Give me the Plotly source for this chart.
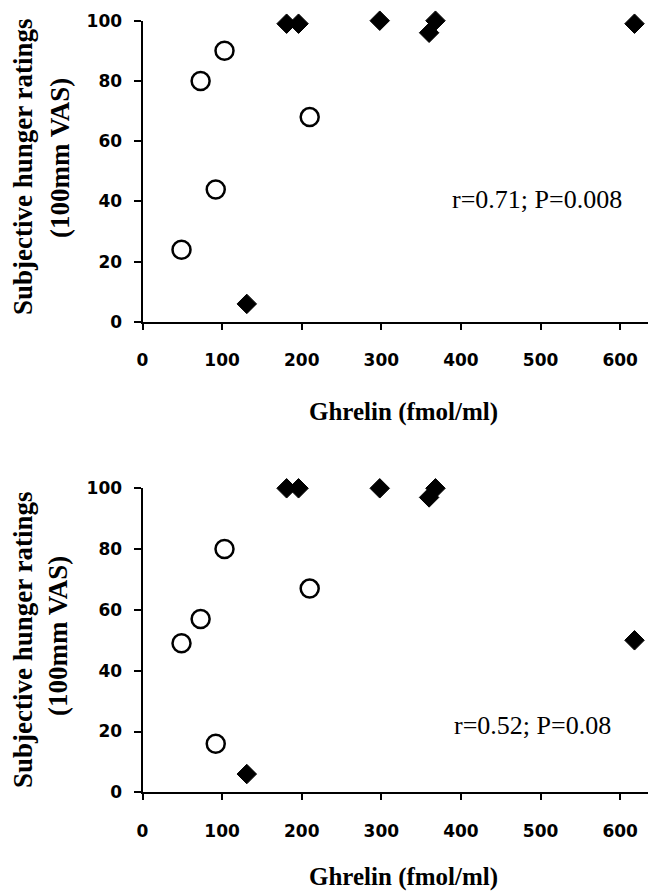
import plotly.graph_objects as go

# ---- data ----
# Top panel
top_open_x = [49, 73, 103, 92, 210]
top_open_y = [24, 80, 90, 44, 68]
top_fill_x = [131, 181, 196, 298, 368, 360, 618]
top_fill_y = [6, 99, 99, 100, 100, 96, 99]
top_label = "r=0.71; P=0.008"

# Bottom panel
bot_open_x = [49, 73, 103, 92, 210]
bot_open_y = [49, 57, 80, 16, 67]
bot_fill_x = [131, 181, 196, 298, 368, 360, 618]
bot_fill_y = [6, 100, 100, 100, 100, 97, 50]
bot_label = "r=0.52; P=0.08"

x_ticks = [0, 100, 200, 300, 400, 500, 600]
y_ticks = [0, 20, 40, 60, 80, 100]
x_title = "Ghrelin (fmol/ml)"
y_title_1 = "Subjective hunger ratings"
y_title_2 = "(100mm VAS)"

OFF = 8            # page body margin
W, H = 648, 885    # figure size (page is 656 x 893)

def px(p):         # page x pixel -> paper fraction
    return (p - OFF) / W

def py(p):         # page y pixel -> paper fraction
    return 1 - (p - OFF) / H

x_dom = [px(142.5), 1.0]
top_dom = [py(322), py(20.7)]
bot_dom = [py(792.3), py(488.3)]

fig = go.Figure()

open_marker = dict(symbol="circle-open", size=18, color="black", line=dict(width=2.5, color="black"))
fill_marker = dict(symbol="diamond", size=15, color="black", line=dict(width=1, color="black"))

fig.add_trace(go.Scatter(x=top_open_x, y=top_open_y, mode="markers", marker=open_marker,
                         xaxis="x", yaxis="y", cliponaxis=False, showlegend=False))
fig.add_trace(go.Scatter(x=top_fill_x, y=top_fill_y, mode="markers", marker=fill_marker,
                         xaxis="x", yaxis="y", cliponaxis=False, showlegend=False))
fig.add_trace(go.Scatter(x=bot_open_x, y=bot_open_y, mode="markers", marker=open_marker,
                         xaxis="x2", yaxis="y2", cliponaxis=False, showlegend=False))
fig.add_trace(go.Scatter(x=bot_fill_x, y=bot_fill_y, mode="markers", marker=fill_marker,
                         xaxis="x2", yaxis="y2", cliponaxis=False, showlegend=False))

tick_font = dict(family="DejaVu Sans", size=17, color="black", weight="bold")

def xaxis_cfg(anchor):
    return dict(domain=x_dom, anchor=anchor, range=[0, 645], tickvals=x_ticks,
                ticktext=[str(v) for v in x_ticks], showgrid=False, zeroline=False,
                showline=True, linecolor="black", linewidth=2, ticks="outside",
                ticklen=6, tickwidth=1.5, tickcolor="black", tickfont=tick_font,
                ticklabelstandoff=16, automargin=False)

def yaxis_cfg(anchor, dom):
    return dict(domain=dom, anchor=anchor, range=[0, 100], tickvals=y_ticks,
                ticktext=[str(v) for v in y_ticks], showgrid=False, zeroline=False,
                showline=True, linecolor="black", linewidth=2, ticks="outside",
                ticklen=7, tickwidth=1.5, tickcolor="black", tickfont=tick_font,
                ticklabelstandoff=8, automargin=False)

title_font = dict(family="Liberation Serif", size=25, color="black")
ytitle_font = dict(family="Liberation Serif", size=27, color="black")
stat_font = dict(family="Liberation Serif", size=26, color="black")

annotations = [
    # stats labels
    dict(x=496, y=40.5, xref="x", yref="y", text=top_label, showarrow=False,
         font=stat_font, xanchor="center", yanchor="middle"),
    dict(x=490, y=22, xref="x2", yref="y2", text=bot_label, showarrow=False,
         font=stat_font, xanchor="center", yanchor="middle"),
    # x titles
    dict(x=px(403), y=py(412), xref="paper", yref="paper", text="<b>%s</b>" % x_title,
         showarrow=False, font=title_font, xanchor="center", yanchor="middle"),
    dict(x=px(403), y=py(877), xref="paper", yref="paper", text="<b>%s</b>" % x_title,
         showarrow=False, font=title_font, xanchor="center", yanchor="middle"),
    # y titles top
    dict(x=px(23), y=py(167), xref="paper", yref="paper", text="<b>%s</b>" % y_title_1,
         textangle=-90, showarrow=False, font=ytitle_font, xanchor="center", yanchor="middle"),
    dict(x=px(60), y=py(158), xref="paper", yref="paper", text="<b>%s</b>" % y_title_2,
         textangle=-90, showarrow=False, font=ytitle_font, xanchor="center", yanchor="middle"),
    # y titles bottom
    dict(x=px(23), y=py(640), xref="paper", yref="paper", text="<b>%s</b>" % y_title_1,
         textangle=-90, showarrow=False, font=ytitle_font, xanchor="center", yanchor="middle"),
    dict(x=px(58), y=py(636), xref="paper", yref="paper", text="<b>%s</b>" % y_title_2,
         textangle=-90, showarrow=False, font=ytitle_font, xanchor="center", yanchor="middle"),
]

fig.update_layout(
    width=W, height=H,
    margin=dict(l=0, r=0, t=0, b=0, autoexpand=False),
    paper_bgcolor="white", plot_bgcolor="white",
    xaxis=xaxis_cfg("y"), yaxis=yaxis_cfg("x", top_dom),
    xaxis2=xaxis_cfg("y2"), yaxis2=yaxis_cfg("x2", bot_dom),
    annotations=annotations,
    showlegend=False,
)

fig.write_html("out.html")
